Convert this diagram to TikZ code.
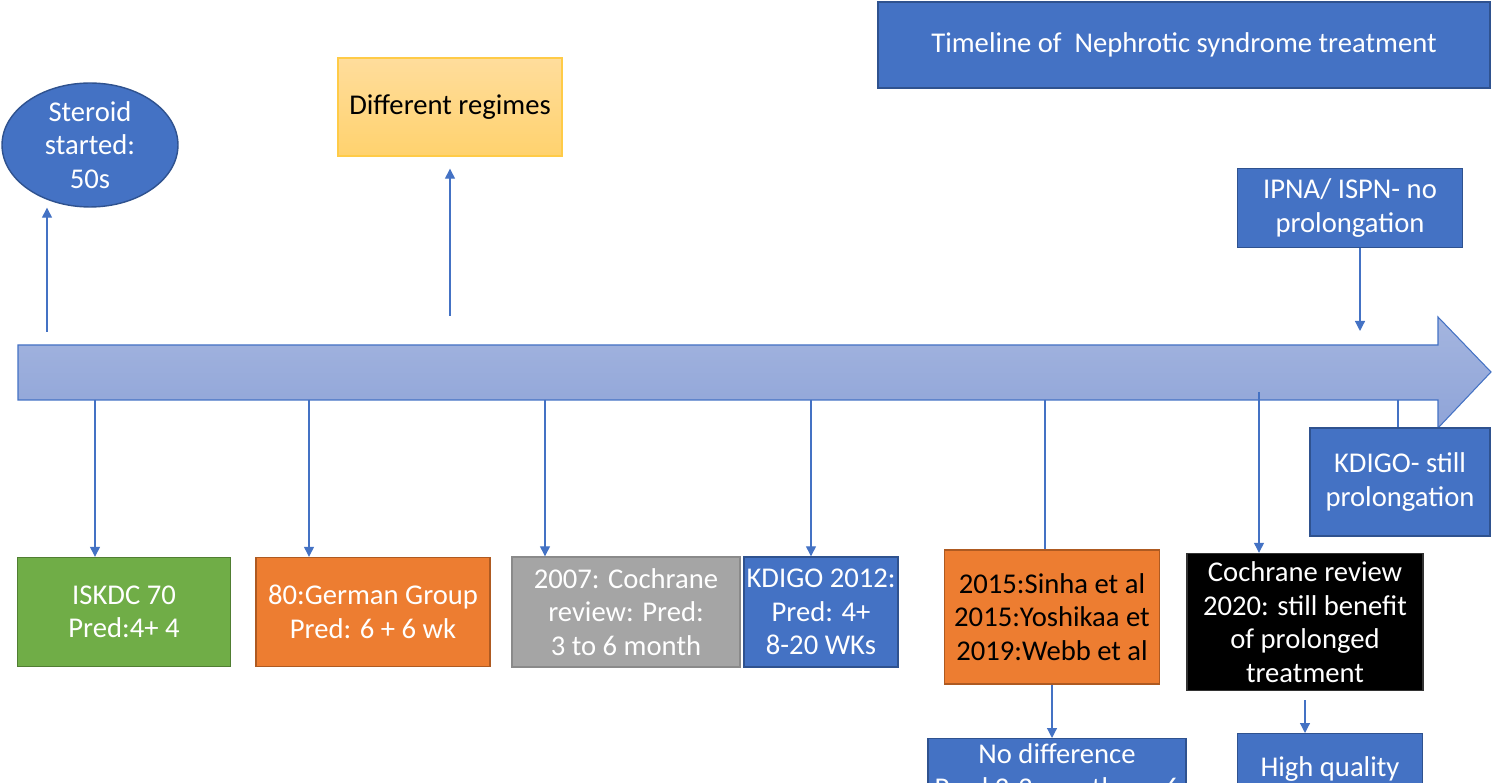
\documentclass[tikz,border=0pt]{standalone}
\usepackage{fontspec}
\setmainfont{Carlito}
\usetikzlibrary{arrows.meta, positioning, shapes.geometric}
\definecolor{tlblue}{HTML}{4472C4}
\definecolor{tledge}{HTML}{2F528F}
\definecolor{tltop}{HTML}{A4B5DF}
\definecolor{tlbottom}{HTML}{8FA4D8}
\definecolor{tgreen}{HTML}{70AD47}
\definecolor{tgreenedge}{HTML}{507E32}
\definecolor{torange}{HTML}{ED7D31}
\definecolor{torangeedge}{HTML}{AE5A21}
\definecolor{tgray}{HTML}{A5A5A5}
\definecolor{tgrayedge}{HTML}{8A8A8A}
\definecolor{regtop}{HTML}{FFDD9C}
\definecolor{regbottom}{HTML}{FFD26E}
\definecolor{regedge}{HTML}{FFCB47}
\tikzset{
  box/.style={
    rectangle, draw=tledge, fill=tlblue, line width=0.8pt,
    text=white, align=center, inner sep=2pt,
    font=\fontsize{16.3}{19.1}\selectfont
  },
  greenbox/.style={box, fill=tgreen, draw=tgreenedge},
  orangebox/.style={box, fill=torange, draw=torangeedge},
  graybox/.style={box, fill=tgray, draw=tgrayedge},
  blackbox/.style={box, fill=black, draw=black!80},
  regimebox/.style={box, top color=regtop, bottom color=regbottom, draw=regedge, text=black},
  arrow/.style={-{Triangle[length=2mm,width=2mm]}, line width=0.7pt, draw=tlblue},
  link/.style={line width=0.7pt, draw=tlblue},
}

\begin{document}
\begin{tikzpicture}[x=0.02cm, y=-0.02cm]
  \clip (0,0) rectangle (1492,783);

  % title and upper notes
  \node[box, minimum width=12.24cm, minimum height=1.72cm] (title) at (1184,45)
    {Timeline of\ \ Nephrotic syndrome treatment};
  \node[box, ellipse, inner sep=0pt, inner ysep=-3pt, minimum width=3.52cm, minimum height=2.48cm] (steroid) at (90,145)
    {Steroid\\started:\\50s};
  \node[regimebox, minimum width=4.48cm, minimum height=1.96cm] (regimes) at (450,107)
    {Different regimes};
  \node[box, minimum width=4.5cm, minimum height=1.58cm] (ipna) at (1350,208)
    {IPNA/ ISPN- no\\prolongation};

  % the time line
  \path[draw=tlblue, line width=0.6pt, top color=tltop, bottom color=tlbottom]
    (18,345) -- (1438,345) -- (1438,317) -- (1491,372) -- (1438,428) -- (1438,400) -- (18,400) -- cycle;
  \coordinate (s0) at (47,332);
  \coordinate (r0) at (450,316);
  \coordinate (i0) at (1360,331);
  \coordinate (t1) at (95,400);
  \coordinate (t2) at (309,400);
  \coordinate (t3) at (545,400);
  \coordinate (t4) at (811,400);
  \coordinate (t5) at (1045,400);
  \coordinate (t6) at (1259,392);
  \coordinate (t7) at (1398,400);

  \node[box, minimum width=3.6cm, minimum height=2.16cm] (kdigostill) at (1400,482)
    {KDIGO- still\\prolongation};

  % events below the line
  \node[greenbox, minimum width=4.26cm, minimum height=2.18cm] (iskdc) at (124,612)
    {ISKDC 70\\Pred:4+ 4};
  \node[orangebox, minimum width=4.68cm, minimum height=2.18cm] (german) at (373,612)
    {80:German Group\\Pred: 6 + 6 wk};
  \node[graybox, minimum width=4.56cm, minimum height=2.2cm] (coch07) at (626,612)
    {2007: Cochrane\\review: Pred:\\3 to 6 month};
  \node[box, inner xsep=0pt, minimum width=3.08cm, minimum height=2.2cm] (kdigo12) at (821,612)
    {KDIGO 2012:\\Pred: 4+\\8-20 WKs};
  \node[orangebox, text=black, minimum width=4.3cm, minimum height=2.68cm] (sinha) at (1052,617)
    {2015:Sinha et al\\2015:Yoshikaa et\\2019:Webb et al};
  \node[blackbox, minimum width=4.72cm, minimum height=2.74cm] (coch20) at (1305,622)
    {Cochrane review\\2020: still benefit\\of prolonged\\treatment};
  \node[box, anchor=north, minimum width=5.16cm, inner ysep=3pt] (nodiff) at (1057,738)
    {No difference\\Pred 2-3 months vs 6};
  \node[box, anchor=north, minimum width=3.7cm, inner ysep=13pt] (highq) at (1330,733)
    {High quality};

  % connectors
  \draw[arrow] (s0) -- (s0 |- steroid.south);
  \draw[arrow, shorten >=0.24cm] (r0) -- (regimes.south);
  \draw[arrow] (ipna.south -| i0) -- (i0);
  \draw[arrow] (t1) -- (t1 |- iskdc.north);
  \draw[arrow] (t2) -- (t2 |- german.north);
  \draw[arrow] (t3) -- (t3 |- coch07.north);
  \draw[arrow] (t4) -- (t4 |- kdigo12.north);
  \draw[link] (t5) -- (t5 |- sinha.north);
  \draw[arrow] (t6) -- (t6 |- coch20.north);
  \draw[link] (t7) -- (t7 |- kdigostill.north);
  \draw[arrow] (sinha.south) -- (sinha.south |- nodiff.north);
  \draw[arrow, shorten <=0.18cm] (coch20.south) -- (coch20.south |- highq.north);
\end{tikzpicture}
\end{document}
